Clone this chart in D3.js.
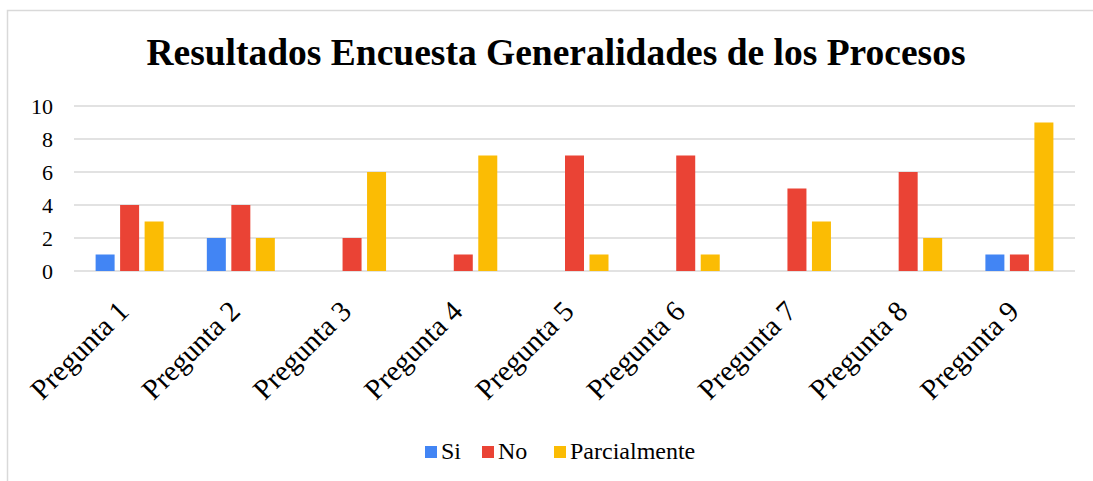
<!DOCTYPE html>
<html>
<head>
<meta charset="utf-8">
<script src="https://cdn.jsdelivr.net/npm/d3@7"></script>
<style>
  body { margin: 0; background: #fff; }
  text { font-family: "Liberation Serif", "Times New Roman", serif; fill: #000; }
</style>
</head>
<body>
<div id="graph"></div>
<script>
var categories = ["Pregunta 1", "Pregunta 2", "Pregunta 3", "Pregunta 4", "Pregunta 5",
                  "Pregunta 6", "Pregunta 7", "Pregunta 8", "Pregunta 9"];
var seriesNames = ["Si", "No", "Parcialmente"];
var siValues = [1, 2, 0, 0, 0, 0, 0, 0, 1];
var noValues = [4, 4, 2, 1, 7, 7, 5, 6, 1];
var parcialValues = [3, 2, 6, 7, 1, 1, 3, 2, 9];
var yTicks = [0, 2, 4, 6, 8, 10];
var colors = ["#4285F4", "#EA4335", "#FBBC04"];

var width = 1093;
var height = 481;

var svg = d3.select('#graph')
    .append('svg')
    .attr('width', width)
    .attr('height', height);

// chart frame: only the left and top edges are inside the picture
svg.append('path')
    .attr('d', 'M7.5,481V10.5H1093')
    .attr('fill', 'none')
    .attr('stroke', '#d9d9d9')
    .attr('stroke-width', 1.5);

var plotLeft = 74, plotRight = 1075, plotTop = 106, plotBottom = 271;

var series = [siValues, noValues, parcialValues];
var data = categories.map(function(c, i) {
    return { cat: c, values: series.map(function(s, j) { return { name: seriesNames[j], v: s[i], j: j }; }) };
});

var xScale = d3.scaleBand().domain(categories).range([plotLeft, plotRight]);
var yScale = d3.scaleLinear().domain([0, 10]).range([plotBottom, plotTop]);

var barW = 19, gap = 5.5;
var groupW = 3 * barW + 2 * gap;

// gridlines
svg.append('g')
    .selectAll('line')
    .data(yTicks)
    .enter()
    .append('line')
    .attr('x1', plotLeft).attr('x2', plotRight)
    .attr('y1', function(d) { return yScale(d); })
    .attr('y2', function(d) { return yScale(d); })
    .attr('stroke', '#d9d9d9')
    .attr('stroke-width', 1.5);

// y tick labels
var yAxis = d3.axisLeft(yScale).tickValues(yTicks).tickSize(0).tickPadding(0);
var yG = svg.append('g')
    .attr('transform', 'translate(53, 0)')
    .call(yAxis);
yG.select('.domain').remove();
yG.selectAll('text')
    .attr('font-size', 22)
    .attr('font-family', '"Liberation Serif", serif')
    .attr('dy', '0.35em');

// bars
var groups = svg.append('g')
    .selectAll('g')
    .data(data)
    .enter()
    .append('g')
    .attr('transform', function(d) {
        return 'translate(' + (xScale(d.cat) + (xScale.bandwidth() - groupW) / 2) + ',0)';
    });

groups.selectAll('rect')
    .data(function(d) { return d.values.filter(function(e) { return e.v > 0; }); })
    .enter()
    .append('rect')
    .attr('x', function(d) { return d.j * (barW + gap); })
    .attr('y', function(d) { return yScale(d.v); })
    .attr('width', barW)
    .attr('height', function(d) { return yScale(0) - yScale(d.v); })
    .attr('fill', function(d) { return colors[d.j]; });

// x axis labels rotated
var xAxis = d3.axisBottom(xScale).tickSize(0).tickPadding(0);
var xG = svg.append('g')
    .attr('transform', 'translate(0,' + plotBottom + ')')
    .call(xAxis);
xG.select('.domain').remove();
xG.selectAll('text')
    .attr('font-size', 29)
    .attr('font-family', '"Liberation Serif", serif')
    .attr('text-anchor', 'end')
    .attr('y', 0)
    .attr('dy', 0)
    .attr('transform', 'translate(1,42) rotate(-45)');

// title
svg.append('text')
    .attr('x', 556).attr('y', 65)
    .attr('text-anchor', 'middle')
    .attr('font-size', 37.5)
    .attr('font-weight', 'bold')
    .text('Resultados Encuesta Generalidades de los Procesos');

// legend
var legendX = [425, 482, 554];
var legend = svg.append('g')
    .selectAll('g')
    .data(seriesNames)
    .enter()
    .append('g')
    .attr('transform', function(d, i) { return 'translate(' + legendX[i] + ',446)'; });
legend.append('rect')
    .attr('width', 12).attr('height', 12)
    .attr('fill', function(d, i) { return colors[i]; });
legend.append('text')
    .attr('x', 16).attr('y', 13)
    .attr('font-size', 24)
    .text(function(d) { return d; });
</script>
</body>
</html>
